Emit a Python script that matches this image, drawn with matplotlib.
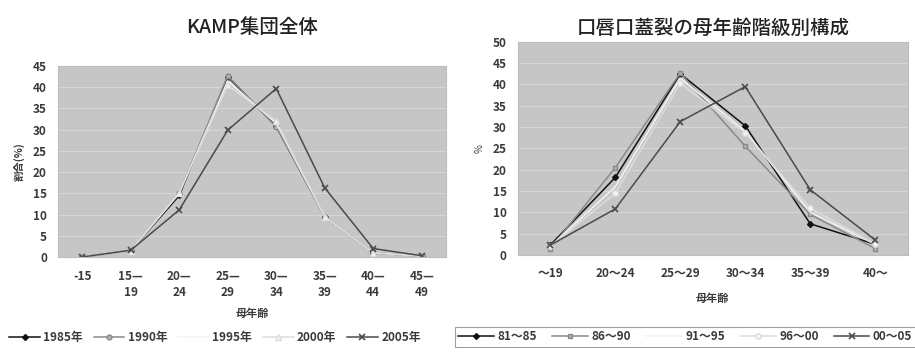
import matplotlib.pyplot as plt
import numpy as np

plt.rcParams['font.family'] = ['Noto Sans CJK JP', 'DejaVu Sans']

# left chart data
left_ages = ["-15", "15—\n19", "20—\n24", "25—\n29", "30—\n34", "35—\n39", "40—\n44", "45—\n49"]
left_names = ["1985年", "1990年", "1995年", "2000年", "2005年"]
y1985 = [0, 1.5, 14.5, 42.5, 30.8, 9.5, 1.0, 0.2]
y1990 = [0, 1.5, 15.0, 42.7, 30.7, 9.5, 1.0, 0.2]
y1995 = [0, 1.5, 15.0, 41.5, 31.5, 9.5, 1.0, 0.2]
y2000 = [0, 1.5, 15.2, 40.5, 32.0, 9.5, 1.0, 0.2]
y2005 = [0, 1.6, 11.1, 29.9, 39.7, 16.3, 2.0, 0.3]

# right chart data
right_ages = ["～19", "20～24", "25～29", "30～34", "35～39", "40～"]
right_names = ["81～85", "86～90", "91～95", "96～00", "00～05"]
r8185 = [2.3, 18.2, 42.5, 30.3, 7.3, 2.5]
r8690 = [1.5, 20.5, 42.7, 25.5, 9.5, 1.5]
r9195 = [2.0, 16.0, 41.5, 29.0, 10.0, 2.5]
r9600 = [2.0, 14.5, 40.3, 28.6, 11.0, 2.5]
r0005 = [2.3, 10.8, 31.3, 39.5, 15.3, 3.5]

styles = [
    dict(color='#111111', marker='D', ms=3, mfc='#111111', mec='#111111'),
    dict(color='#8a8a8a', marker='s', ms=3.5, mfc='#b0b0b0', mec='#8a8a8a'),
    dict(color='#f2f2f2', marker=None),
    dict(color='#dcdcdc', marker='o', ms=4, mfc='#f4f4f4', mec='#dcdcdc'),
    dict(color='#4a4a4a', marker='x', ms=4, mew=1.2),
]
left_styles = [dict(s) for s in styles]
left_styles[1]['marker'] = 'o'
left_styles[3]['marker'] = '^'

txt = '#3a3a3a'
bg = '#c6c6c6'

fig = plt.figure(figsize=(9.15, 3.55), dpi=100)
fig.patch.set_facecolor('white')

def style_ax(ax, ymax):
    ax.set_facecolor(bg)
    ax.set_ylim(0, ymax)
    ax.set_yticks(np.arange(0, ymax + 1, 5))
    ax.grid(axis='y', color='#d6d6d6', lw=0.8)
    ax.set_axisbelow(True)
    for s in ax.spines.values():
        s.set_color('#bdbdbd')
        s.set_linewidth(0.8)
    ax.tick_params(length=0, labelsize=8.5, labelcolor=txt)
    ax.tick_params(axis='x', pad=9)
    ax.tick_params(axis='y', pad=8)

# left
ax1 = fig.add_axes([0.0634, 0.276, 0.424, 0.538])
style_ax(ax1, 45)
x1 = np.arange(len(left_ages))
h1 = []
for name, ys, st in zip(left_names, [y1985, y1990, y1995, y2000, y2005], left_styles):
    h1 += ax1.plot(x1, ys, lw=1.1, label=name, **st)
ax1.set_xlim(-0.5, len(left_ages) - 0.5)
ax1.set_xticks(x1)
ax1.set_xticklabels(left_ages, linespacing=1.35, fontweight='bold')
for lab in ax1.get_yticklabels():
    lab.set_fontweight('bold')
ax1.set_xlabel("母年齢", fontsize=8, color=txt, labelpad=6, fontweight='bold')
ax1.set_ylabel("割合(%)", fontsize=7.5, color=txt, labelpad=6, fontweight='bold')
ax1.set_title("KAMP集団全体", fontsize=14, color='#222222', pad=24, fontweight='medium')
fig.legend(handles=h1, loc='center', bbox_to_anchor=(0.235, 0.048), ncol=5, frameon=False,
           prop={'size': 8.5, 'weight': 'bold'}, labelcolor=txt, handlelength=2.6,
           columnspacing=0.9, handletextpad=0.3)

# right
ax2 = fig.add_axes([0.566, 0.282, 0.426, 0.600])
style_ax(ax2, 50)
x2 = np.arange(len(right_ages))
h2 = []
for name, ys, st in zip(right_names, [r8185, r8690, r9195, r9600, r0005], styles):
    h2 += ax2.plot(x2, ys, lw=1.1, label=name, **st)
ax2.set_xlim(-0.5, len(right_ages) - 0.5)
ax2.set_xticks(x2)
ax2.set_xticklabels(right_ages, fontweight='bold')
for lab in ax2.get_yticklabels():
    lab.set_fontweight('bold')
ax2.set_xlabel("母年齢", fontsize=8, color=txt, labelpad=8, fontweight='bold')
ax2.set_ylabel("%", fontsize=7, color=txt, labelpad=6)
ax2.set_title("口唇口蓋裂の母年齢階級別構成", fontsize=14, color='#222222', pad=6, fontweight='medium')
leg = fig.legend(handles=h2, loc='center', bbox_to_anchor=(0.749, 0.051), ncol=5, frameon=True,
                 fancybox=False, prop={'size': 8.5, 'weight': 'bold'}, labelcolor=txt,
                 handlelength=3.0, columnspacing=1.3, handletextpad=0.3, borderpad=0.3)
leg.get_frame().set_edgecolor('#888888')
leg.get_frame().set_linewidth(0.8)

fig.savefig("out.png", dpi=100)
